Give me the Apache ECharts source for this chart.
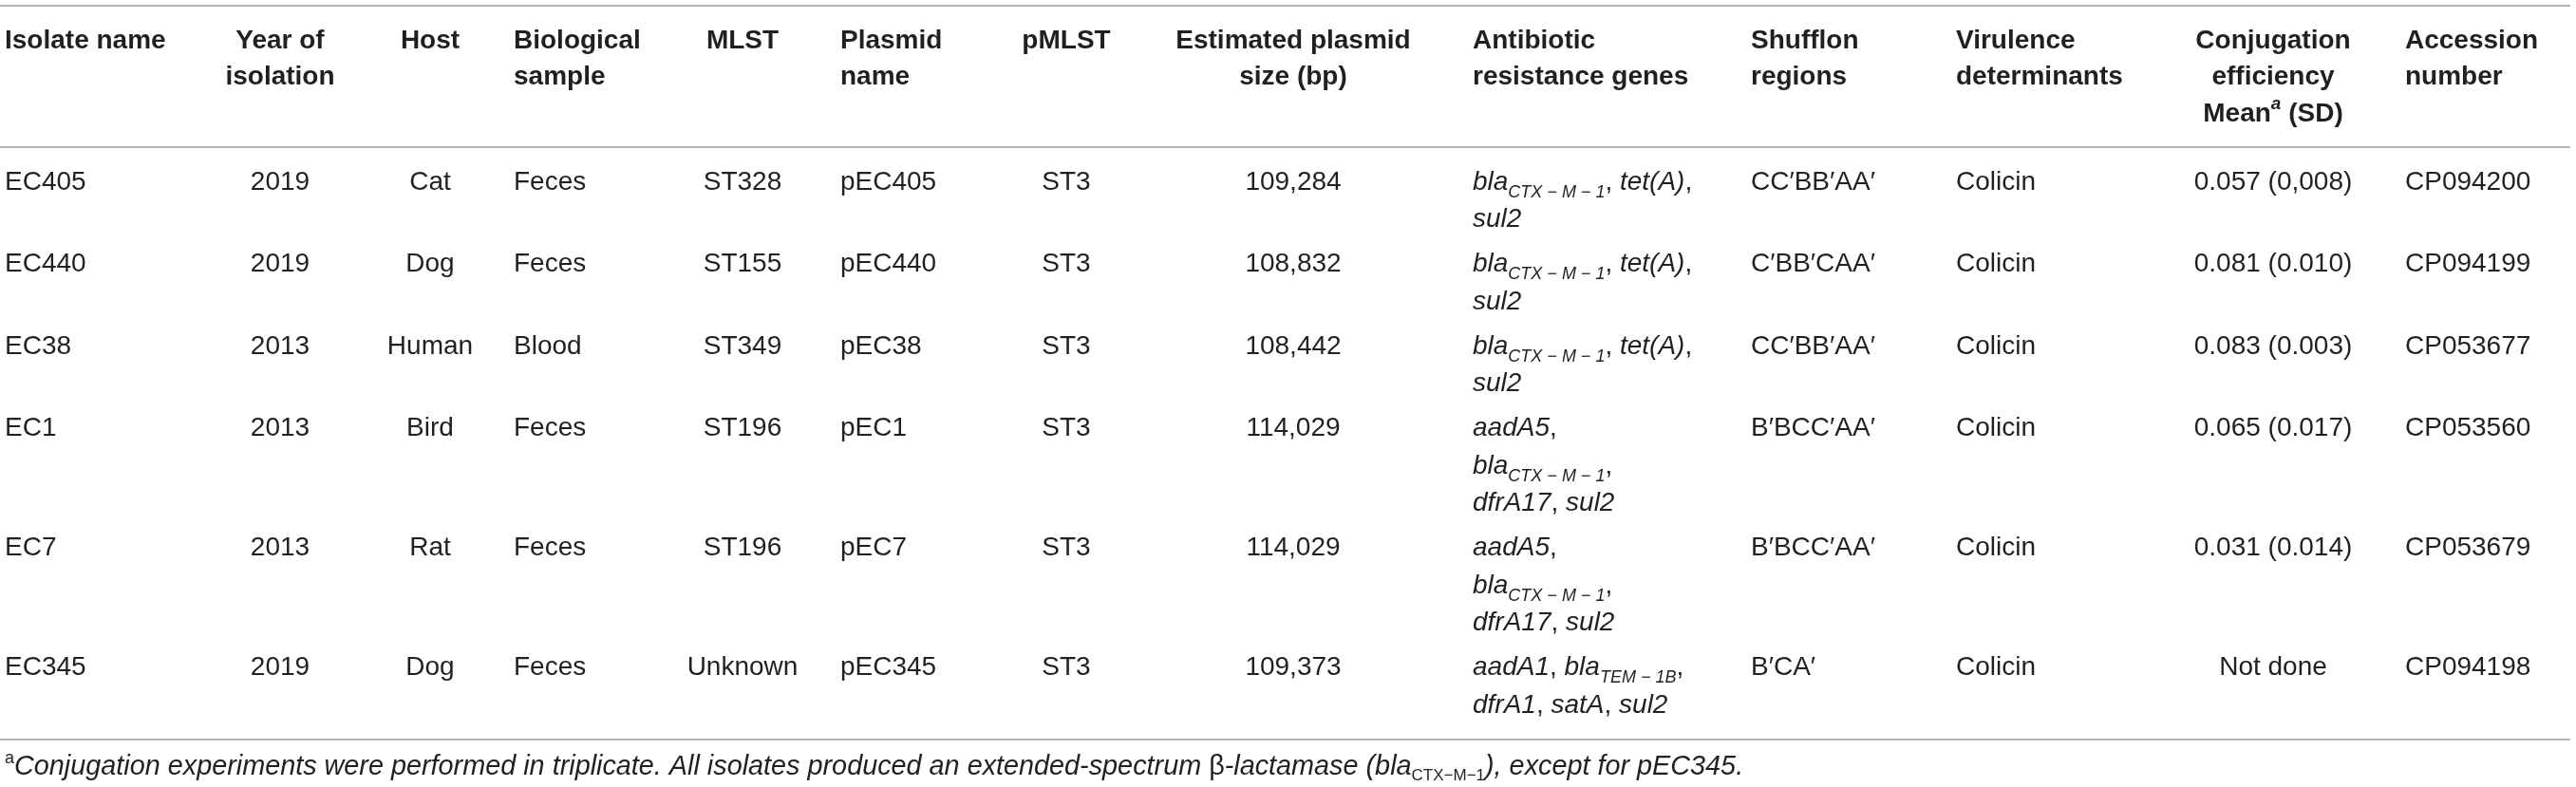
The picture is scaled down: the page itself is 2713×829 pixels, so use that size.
<!DOCTYPE html>
<html>
<head>
<meta charset="utf-8">
<script src="https://cdn.jsdelivr.net/npm/echarts@6/dist/echarts.min.js"></script>
<style>
html,body{margin:0;padding:0;background:#ffffff;}
#chart{width:2713px;height:829px;}
</style>
</head>
<body>
<div id="chart"></div>
<script>
// ---------------- DATA ----------------
const headers = [
  'Isolate name',
  'Year of\nisolation',
  'Host',
  'Biological\nsample',
  'MLST',
  'Plasmid\nname',
  'pMLST',
  'Estimated plasmid\nsize (bp)',
  'Antibiotic\nresistance genes',
  'Shufflon\nregions',
  'Virulence\ndeterminants',
  'Conjugation\nefficiency\nMean{sup|a} (SD)',
  'Accession\nnumber'
];
const isolates   = ['EC405', 'EC440', 'EC38', 'EC1', 'EC7', 'EC345'];
const years      = ['2019', '2019', '2013', '2013', '2013', '2019'];
const hosts      = ['Cat', 'Dog', 'Human', 'Bird', 'Rat', 'Dog'];
const samples    = ['Feces', 'Feces', 'Blood', 'Feces', 'Feces', 'Feces'];
const mlst       = ['ST328', 'ST155', 'ST349', 'ST196', 'ST196', 'Unknown'];
const plasmids   = ['pEC405', 'pEC440', 'pEC38', 'pEC1', 'pEC7', 'pEC345'];
const pmlst      = ['ST3', 'ST3', 'ST3', 'ST3', 'ST3', 'ST3'];
const plasmidSize = [109284, 108832, 108442, 114029, 114029, 109373];
const genes = [
  '{i|bla}{s|CTX \u2212 M \u2212 1}, {i|tet(A)},\n{i|sul2}',
  '{i|bla}{s|CTX \u2212 M \u2212 1}, {i|tet(A)},\n{i|sul2}',
  '{i|bla}{s|CTX \u2212 M \u2212 1}, {i|tet(A)},\n{i|sul2}',
  '{i|aadA5},\n{i|bla}{s|CTX \u2212 M \u2212 1},\n{i|dfrA17}, {i|sul2}',
  '{i|aadA5},\n{i|bla}{s|CTX \u2212 M \u2212 1},\n{i|dfrA17}, {i|sul2}',
  '{i|aadA1}, {i|bla}{s|TEM \u2212 1B},\n{i|dfrA1}, {i|satA}, {i|sul2}'
];
const shufflon   = ['CC\u2032BB\u2032AA\u2032', 'C\u2032BB\u2032CAA\u2032', 'CC\u2032BB\u2032AA\u2032', 'B\u2032BCC\u2032AA\u2032', 'B\u2032BCC\u2032AA\u2032', 'B\u2032CA\u2032'];
const virulence  = ['Colicin', 'Colicin', 'Colicin', 'Colicin', 'Colicin', 'Colicin'];
const conjugation = ['0.057 (0,008)', '0.081 (0.010)', '0.083 (0.003)', '0.065 (0.017)', '0.031 (0.014)', 'Not done'];
const accession  = ['CP094200', 'CP094199', 'CP053677', 'CP053560', 'CP053679', 'CP094198'];
const footnote = '{sup|a}Conjugation experiments were performed in triplicate. All isolates produced an extended-spectrum {up|\u03b2}-lactamase (bla{sub|CTX\u2212M\u22121}), except for pEC345.';

const sizeLabels = plasmidSize.map(v => v.toLocaleString('en-US'));
const columns = [isolates, years, hosts, samples, mlst, plasmids, pmlst, sizeLabels, genes, shufflon, virulence, conjugation, accession];

// ---------------- LAYOUT / STYLE ----------------
const LAYOUT = {
  width: 2713, height: 829,
  colX: [5, 295, 453, 541, 782, 885, 1123, 1362, 1551, 1844, 2060, 2394, 2533],
  colAlign: ['left', 'center', 'center', 'left', 'center', 'left', 'center', 'center', 'left', 'left', 'left', 'center', 'left'],
  headerFirst: 43, headerLH: 38.5,
  bodyFirst: 192, bodyLH: 39.5, rowGap: 47,
  rules: [6, 155, 779], ruleX0: 0, ruleX1: 2707,
  footX: 5, footY: 808, footLH: 36
};
const FONT = '"Liberation Sans", Arial, Helvetica, sans-serif';
const TEXT = '#231f20';
const FS = 28;
const FOOT_FS = 28.8;

const bodyRich = {
  i: { fontFamily: FONT, fontSize: FS, fontStyle: 'italic', lineHeight: LAYOUT.bodyLH, verticalAlign: 'middle', fill: TEXT },
  s: { fontFamily: FONT, fontSize: 18, fontStyle: 'italic', lineHeight: 26, verticalAlign: 'bottom', fill: TEXT }
};
const headRich = {
  sup: { fontFamily: FONT, fontSize: 19, fontStyle: 'italic', fontWeight: 'bold', lineHeight: 24, verticalAlign: 'top', fill: TEXT }
};
const footRich = {
  sup: { fontFamily: FONT, fontSize: 18, fontStyle: 'normal', lineHeight: 22, verticalAlign: 'top', fill: TEXT },
  sub: { fontFamily: FONT, fontSize: 17, fontStyle: 'normal', lineHeight: 24, verticalAlign: 'bottom', fill: TEXT },
  up:  { fontFamily: FONT, fontSize: FOOT_FS, fontStyle: 'normal', lineHeight: LAYOUT.footLH, verticalAlign: 'middle', fill: TEXT }
};

// row first-line positions derived from line counts
const rowY = [];
(function () {
  let y = LAYOUT.bodyFirst;
  for (let r = 0; r < isolates.length; r++) {
    rowY.push(y);
    let n = 1;
    columns.forEach(col => { n = Math.max(n, String(col[r]).split('\n').length); });
    y += (n - 1) * LAYOUT.bodyLH + LAYOUT.rowGap;
  }
})();

const cellData = [];
for (let c = 0; c < headers.length; c++) cellData.push([c, -1]);
for (let r = 0; r < isolates.length; r++) {
  for (let c = 0; c < columns.length; c++) cellData.push([c, r]);
}

function renderCell(params, api) {
  const c = api.value(0), r = api.value(1);
  const isHead = r < 0;
  const text = isHead ? headers[c] : String(columns[c][r]);
  const lh = isHead ? LAYOUT.headerLH : LAYOUT.bodyLH;
  const cy = isHead ? LAYOUT.headerFirst : rowY[r];
  const p = api.coord([LAYOUT.colX[c], cy - lh / 2]);
  return {
    type: 'text', x: p[0], y: p[1],
    style: {
      text: text,
      rich: isHead ? headRich : bodyRich,
      fontFamily: FONT, fontSize: FS,
      fontWeight: isHead ? 'bold' : 'normal',
      fill: TEXT,
      align: LAYOUT.colAlign[c], verticalAlign: 'top',
      lineHeight: lh
    }
  };
}

function renderRule(params, api) {
  const y = api.value(0);
  const a = api.coord([LAYOUT.ruleX0, y]);
  const b = api.coord([LAYOUT.ruleX1, y]);
  return {
    type: 'line',
    shape: { x1: a[0], y1: a[1], x2: b[0], y2: b[1] },
    style: { stroke: '#9a9a9a', lineWidth: 1.6 }
  };
}

function renderFoot(params, api) {
  const p = api.coord([LAYOUT.footX, LAYOUT.footY - LAYOUT.footLH / 2]);
  return {
    type: 'text', x: p[0], y: p[1],
    style: {
      text: footnote, rich: footRich,
      fontFamily: FONT, fontSize: FOOT_FS, fontStyle: 'italic',
      fill: TEXT, align: 'left', verticalAlign: 'top', lineHeight: LAYOUT.footLH
    }
  };
}

const chart = echarts.init(document.getElementById('chart'), null, { renderer: 'canvas' });
chart.setOption({
  animation: false,
  backgroundColor: '#ffffff',
  grid: { left: 0, right: 0, top: 0, bottom: 0 },
  xAxis: { type: 'value', min: 0, max: LAYOUT.width, show: false },
  yAxis: { type: 'value', min: 0, max: LAYOUT.height, inverse: true, show: false },
  series: [
    { type: 'custom', name: 'rules', renderItem: renderRule, data: LAYOUT.rules.map(v => [v]), encode: { y: 0 }, silent: true },
    { type: 'custom', name: 'cells', renderItem: renderCell, data: cellData, silent: true, clip: false },
    { type: 'custom', name: 'footnote', renderItem: renderFoot, data: [[0]], silent: true, clip: false }
  ]
});
</script>
</body>
</html>
